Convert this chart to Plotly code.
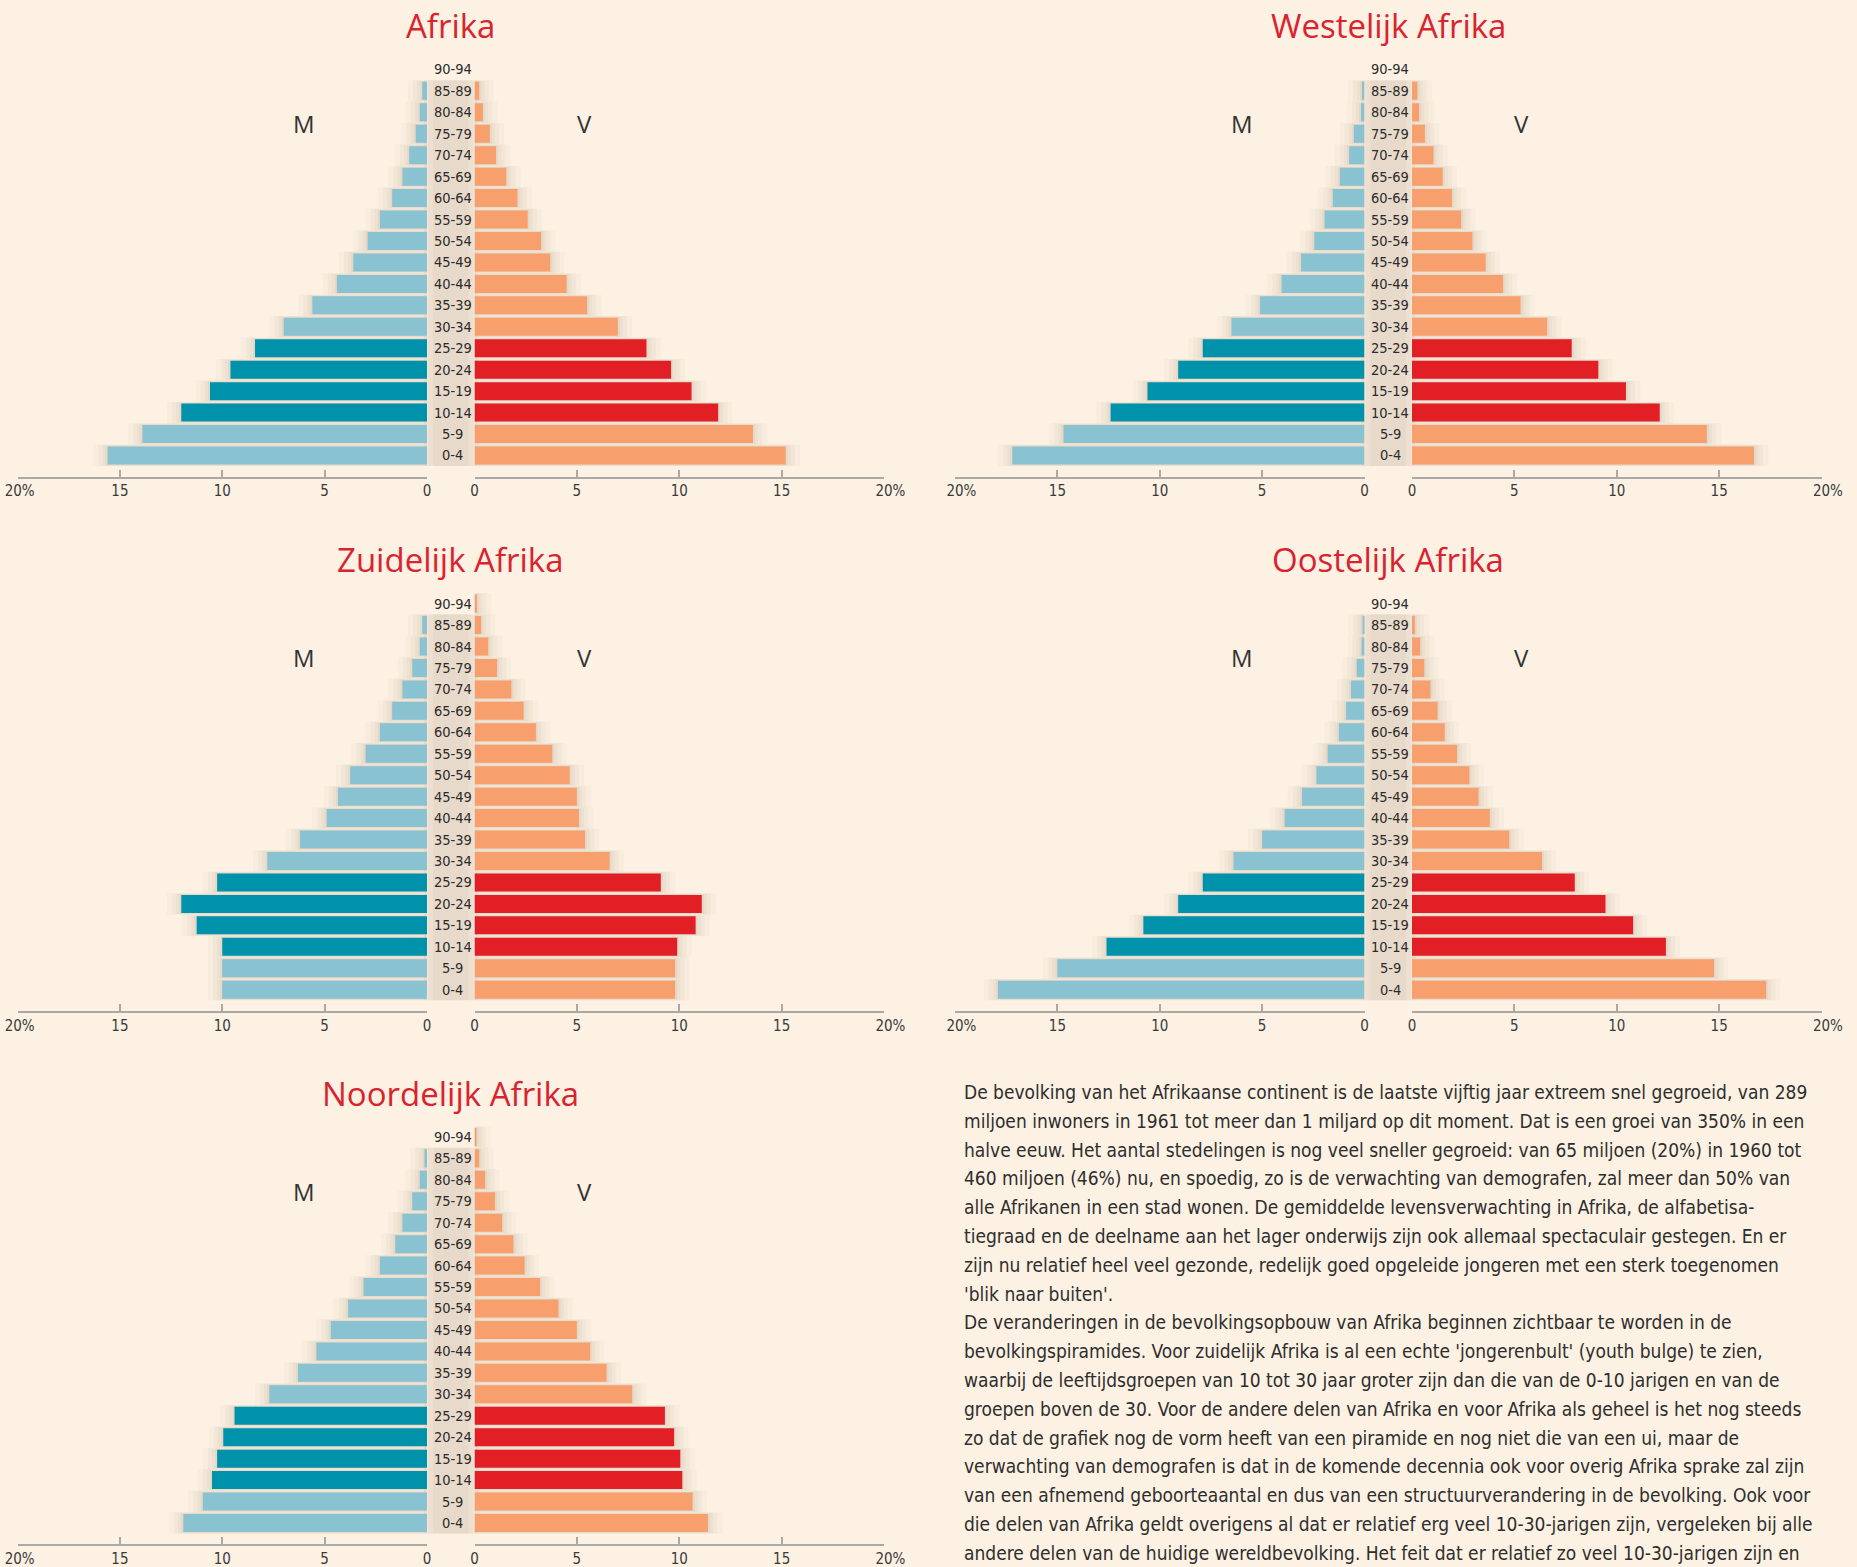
import plotly.graph_objects as go

# ---------------- data ----------------
ages = ["0-4", "5-9", "10-14", "15-19", "20-24", "25-29", "30-34", "35-39", "40-44",
        "45-49", "50-54", "55-59", "60-64", "65-69", "70-74", "75-79", "80-84", "85-89", "90-94"]

titles = ["Afrika", "Westelijk Afrika", "Zuidelijk Afrika", "Oostelijk Afrika", "Noordelijk Afrika"]

afrika_m = [15.6, 13.9, 12.0, 10.6, 9.6, 8.4, 7.0, 5.6, 4.4, 3.6, 2.9, 2.3, 1.7, 1.2, 0.87, 0.55, 0.35, 0.23, 0.0]
afrika_v = [15.2, 13.6, 11.9, 10.6, 9.6, 8.4, 7.0, 5.5, 4.5, 3.7, 3.25, 2.6, 2.1, 1.55, 1.05, 0.75, 0.41, 0.23, 0.0]

west_m = [17.2, 14.7, 12.4, 10.6, 9.1, 7.9, 6.5, 5.1, 4.05, 3.1, 2.45, 1.95, 1.55, 1.2, 0.75, 0.52, 0.17, 0.12, 0.0]
west_v = [16.7, 14.4, 12.1, 10.45, 9.1, 7.8, 6.6, 5.3, 4.45, 3.6, 2.95, 2.4, 1.95, 1.5, 1.05, 0.63, 0.35, 0.26, 0.0]

zuid_m = [10.0, 10.0, 10.0, 11.25, 12.0, 10.25, 7.8, 6.2, 4.9, 4.35, 3.75, 3.0, 2.3, 1.7, 1.2, 0.72, 0.35, 0.23, 0.0]
zuid_v = [9.8, 9.8, 9.9, 10.8, 11.1, 9.1, 6.6, 5.4, 5.1, 5.0, 4.65, 3.8, 3.0, 2.4, 1.8, 1.1, 0.67, 0.32, 0.12]

oost_m = [17.9, 15.0, 12.6, 10.8, 9.1, 7.9, 6.4, 5.0, 3.9, 3.05, 2.35, 1.8, 1.25, 0.9, 0.66, 0.38, 0.14, 0.09, 0.0]
oost_v = [17.3, 14.75, 12.4, 10.8, 9.45, 7.95, 6.35, 4.75, 3.8, 3.25, 2.8, 2.2, 1.6, 1.25, 0.9, 0.6, 0.4, 0.14, 0.0]

noord_m = [11.9, 10.95, 10.5, 10.25, 9.95, 9.4, 7.7, 6.3, 5.4, 4.7, 3.85, 3.1, 2.3, 1.55, 1.2, 0.72, 0.35, 0.12, 0.0]
noord_v = [11.4, 10.65, 10.15, 10.05, 9.75, 9.3, 7.7, 6.45, 5.65, 5.0, 4.1, 3.2, 2.45, 1.9, 1.35, 1.0, 0.52, 0.23, 0.09]

men = [afrika_m, west_m, zuid_m, oost_m, noord_m]
women = [afrika_v, west_v, zuid_v, oost_v, noord_v]

youth_ages = ["10-14", "15-19", "20-24", "25-29"]

tick_vals = [0, 5, 10, 15, 20]
tick_text = ["0", "5", "10", "15", "\u00a0\u00a0\u00a020%"]
tick_text_edge = ["0", "5", "10", "15", "\u00a020%"]

body_lines = [
    "De bevolking van het Afrikaanse continent is de laatste vijftig jaar extreem snel gegroeid, van 289",
    "miljoen inwoners in 1961 tot meer dan 1 miljard op dit moment. Dat is een groei van 350% in een",
    "halve eeuw. Het aantal stedelingen is nog veel sneller gegroeid: van 65 miljoen (20%) in 1960 tot",
    "460 miljoen (46%) nu, en spoedig, zo is de verwachting van demografen, zal meer dan 50% van",
    "alle Afrikanen in een stad wonen. De gemiddelde levensverwachting in Afrika, de alfabetisa-",
    "tiegraad en de deelname aan het lager onderwijs zijn ook allemaal spectaculair gestegen. En er",
    "zijn nu relatief heel veel gezonde, redelijk goed opgeleide jongeren met een sterk toegenomen",
    "'blik naar buiten'.",
    "De veranderingen in de bevolkingsopbouw van Afrika beginnen zichtbaar te worden in de",
    "bevolkingspiramides. Voor zuidelijk Afrika is al een echte 'jongerenbult' (youth bulge) te zien,",
    "waarbij de leeftijdsgroepen van 10 tot 30 jaar groter zijn dan die van de 0-10 jarigen en van de",
    "groepen boven de 30. Voor de andere delen van Afrika en voor Afrika als geheel is het nog steeds",
    "zo dat de grafiek nog de vorm heeft van een piramide en nog niet die van een ui, maar de",
    "verwachting van demografen is dat in de komende decennia ook voor overig Afrika sprake zal zijn",
    "van een afnemend geboorteaantal en dus van een structuurverandering in de bevolking. Ook voor",
    "die delen van Afrika geldt overigens al dat er relatief erg veel 10-30-jarigen zijn, vergeleken bij alle",
    "andere delen van de huidige wereldbevolking. Het feit dat er relatief zo veel 10-30-jarigen zijn en",
]

# ---------------- style ----------------
W, H = 1857, 1567
BG = "#FCF1E3"
C_M = "#89C2D1"
C_M_DARK = "#0092AA"
C_V = "#F8A06D"
C_V_DARK = "#E31F26"
TITLE_RED = "#D9232E"
NARROW = "DejaVu Sans Condensed, Liberation Sans Narrow, sans-serif"
SANS = "Open Sans, Liberation Sans, sans-serif"

row_base = [477.5, 1011.7, 1545.0]   # pixel y of the x-axis line per row
col_off = [0.0, 937.5]
STEP = 21.45                          # pixel distance between age rows
SHADOW = "110,85,60"


def fx(px):
    return px / W


def fy(py):
    return 1 - py / H


fig = go.Figure()
layout = {}
annotations = []
shapes = []

for p in range(5):
    r, c = divmod(p, 2)
    base = row_base[r]
    off = col_off[c]
    xl = 2 * p + 1
    xr = 2 * p + 2
    yi = p + 1
    xl_name = "xaxis" if xl == 1 else f"xaxis{xl}"
    xr_name = f"xaxis{xr}"
    y_name = "yaxis" if yi == 1 else f"yaxis{yi}"
    xl_ref = "x" if xl == 1 else f"x{xl}"
    xr_ref = f"x{xr}"
    y_ref = "y" if yi == 1 else f"y{yi}"

    y_top = base - 22 - 18 * STEP - STEP / 2
    y_bot = base - 22 + STEP / 2
    ydom = [fy(y_bot), fy(y_top)]

    axis_common = dict(
        tickvals=tick_vals, ticks="inside", ticklen=7,
        tickwidth=1.5, tickcolor="#ABA9A5", showline=True, linecolor="#ABA9A5",
        linewidth=1.6, showgrid=False, zeroline=False, anchor="free",
        position=fy(base), fixedrange=True, automargin=False,
        ticklabeloverflow="allow",
        tickfont=dict(family=NARROW, size=15, color="#3A3A3A"),
    )
    layout[xl_name] = dict(axis_common, domain=[fx(17.5 + off), fx(427 + off)], range=[20, 0],
                           ticktext=tick_text_edge if c == 0 else tick_text)
    layout[xr_name] = dict(axis_common, domain=[fx(474.5 + off), fx(884 + off)], range=[0, 20],
                           ticktext=tick_text)
    layout[y_name] = dict(domain=ydom, range=[-0.5, 18.5], type="category",
                          categoryorder="array", categoryarray=ages, automargin=False,
                          visible=False, anchor=xr_ref, fixedrange=True)

    m_col = [C_M_DARK if a in youth_ages else C_M for a in ages]
    v_col = [C_V_DARK if a in youth_ages else C_V for a in ages]

    # soft shadow layers behind the bars
    for extra, wdt, op in [(0.7, 1.0, 0.03), (0.45, 1.0, 0.035), (0.25, 0.95, 0.045), (0.1, 0.9, 0.05)]:
        for vals, xref in ((men[p], xl_ref), (women[p], xr_ref)):
            fig.add_trace(go.Bar(y=ages, x=[v + extra if v > 0 else 0 for v in vals], orientation="h",
                                 width=wdt, marker=dict(color=f"rgba({SHADOW},{op})", line=dict(width=0)),
                                 xaxis=xref, yaxis=y_ref, showlegend=False, hoverinfo="skip"))

    fig.add_trace(go.Bar(y=ages, x=men[p], orientation="h", width=0.84,
                         marker=dict(color=m_col, line=dict(width=0)),
                         xaxis=xl_ref, yaxis=y_ref, showlegend=False, name="M"))
    fig.add_trace(go.Bar(y=ages, x=women[p], orientation="h", width=0.84,
                         marker=dict(color=v_col, line=dict(width=0)),
                         xaxis=xr_ref, yaxis=y_ref, showlegend=False, name="V"))

    # central shading column
    for x0, x1, op in [(424, 477.5, 0.05), (428, 473.5, 0.05), (433, 468.5, 0.04)]:
        shapes.append(dict(type="rect", xref="paper", yref=y_ref,
                           x0=fx(x0 + off), x1=fx(x1 + off), y0=-0.5, y1=17.5,
                           fillcolor=f"rgba({SHADOW},{op})", line=dict(width=0), layer="below"))

    # age labels
    for a in ages:
        annotations.append(dict(text=a, xref="paper", yref=y_ref, x=fx(452.5 + off), y=a,
                                showarrow=False, xanchor="center", yanchor="middle",
                                font=dict(family=NARROW, size=14.5, color="#2B2B2B")))
    # title
    annotations.append(dict(text=titles[p], xref="paper", yref="paper", x=fx(450.75 + off),
                            y=fy(base - 452), showarrow=False, xanchor="center", yanchor="middle",
                            font=dict(family=SANS, size=33, color=TITLE_RED)))
    # M / V
    annotations.append(dict(text="M", xref="paper", yref="paper", x=fx(304 + off), y=fy(base - 354),
                            showarrow=False, xanchor="center", yanchor="middle",
                            font=dict(family=SANS, size=24, color="#333333")))
    annotations.append(dict(text="V", xref="paper", yref="paper", x=fx(584 + off), y=fy(base - 354),
                            showarrow=False, xanchor="center", yanchor="middle",
                            font=dict(family=SANS, size=24, color="#333333")))

# body text
for i, line in enumerate(body_lines):
    annotations.append(dict(text=line, xref="paper", yref="paper", x=fx(962), y=fy(1092 + i * 28.8),
                            showarrow=False, xanchor="left", yanchor="middle",
                            font=dict(family=NARROW, size=19, color="#2E2E2E")))

fig.update_layout(
    width=W, height=H, margin=dict(l=0, r=0, t=0, b=0, autoexpand=False),
    paper_bgcolor=BG, plot_bgcolor="rgba(0,0,0,0)",
    barmode="overlay", showlegend=False,
    annotations=annotations, shapes=shapes,
    **layout,
)

fig.write_html("out.html", config={"displayModeBar": False},
               post_script="document.body.style.margin='0';document.body.style.overflow='hidden';")
